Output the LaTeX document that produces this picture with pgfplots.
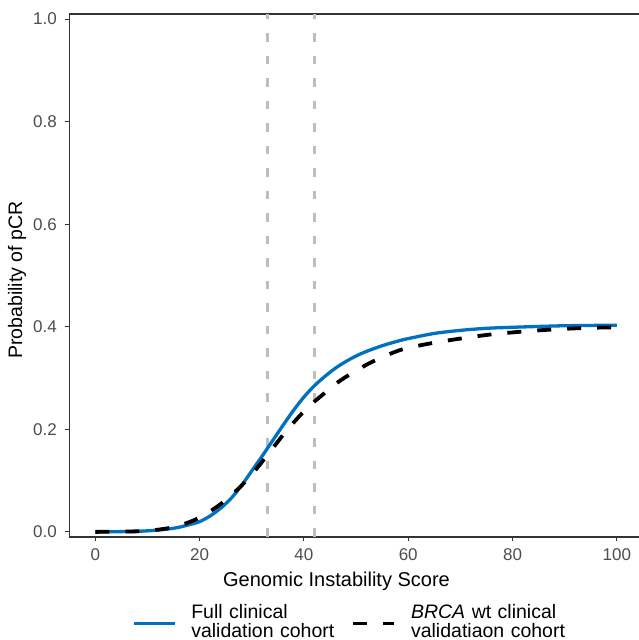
\documentclass[border=0pt]{standalone}
\usepackage{fontspec}
\setmainfont{Liberation Sans}
\usepackage{pgfplots}
\pgfplotsset{compat=1.18}
\definecolor{cblue}{HTML}{0070C0}
\definecolor{vgray}{HTML}{BEBEBE}
\definecolor{axgray}{HTML}{333333}
\definecolor{tkgray}{HTML}{4D4D4D}
\begin{document}
\begin{tikzpicture}
\path[use as bounding box] (0pt,0pt) rectangle (638pt,640pt);
\begin{axis}[
  at={(69.3pt,103pt)}, anchor=south west,
  scale only axis, width=570.8pt, height=523pt,
  xmin=-5, xmax=104.47, ymin=-0.01, ymax=1.01,
  xtick={0,20,40,60,80,100}, ytick={0,0.2,0.4,0.6,0.8,1},
  tick align=outside, major tick length=4.5pt,
  xtick pos=bottom, ytick pos=left,
  tick style={color=axgray, line width=1pt},
  axis line style={color=axgray, line width=1.1pt},
  /pgf/number format/assume math mode=true,
  ticklabel style={font=\fontsize{17}{19}\selectfont, text=tkgray, inner sep=0pt},
  yticklabel style={anchor=east, xshift=-7.8pt, /pgf/number format/.cd, fixed, fixed zerofill, precision=1},
  xticklabel style={anchor=north, yshift=-6.5pt},
  legend cell align=left,
  legend columns=2,
  legend style={draw=none, fill=none, inner sep=0pt, outer sep=0pt,
    at={(0.1098,-0.1491)}, anchor=west,
    nodes={text width=160pt, inner sep=0pt, align=left, font=\fontsize{19.5}{18.5}\selectfont}},
  legend image code/.code={\draw[#1] (0pt,-11pt) -- (41pt,-11pt); \path (56pt,0pt);},
]
\addplot[vgray, line width=2.7pt, dash pattern=on 8.5pt off 14pt, forget plot] coordinates {(33,-0.01) (33,1.01)};
\addplot[vgray, line width=2.7pt, dash pattern=on 8.5pt off 14pt, forget plot] coordinates {(42,-0.01) (42,1.01)};
\addplot[cblue, line width=3.3pt, smooth] coordinates {
(0,0) (5,0.0005) (10,0.002) (15,0.007) (18,0.014) (20,0.020) (22,0.031) (24,0.046) (26,0.065) (28,0.090) (30,0.119) (32,0.148) (34,0.178) (36,0.208) (38,0.237) (40,0.263) (42,0.285) (44,0.303) (46,0.319) (48,0.332) (50,0.343) (52,0.352) (55,0.363) (58,0.372) (60,0.377) (65,0.387) (70,0.393) (75,0.397) (80,0.399) (90,0.402) (100,0.403)};
\addlegendentry{Full clinical\\validation cohort}
\addplot[black, line width=3.8pt, smooth, dash pattern=on 14pt off 16pt] coordinates {
(0,0) (5,0.0005) (10,0.002) (15,0.009) (18,0.019) (20,0.028) (22,0.040) (24,0.054) (26,0.071) (28,0.090) (30,0.112) (32,0.137) (34,0.163) (36,0.189) (38,0.213) (40,0.235) (42,0.254) (44,0.271) (46,0.288) (48,0.302) (50,0.314) (52,0.326) (54,0.336) (56,0.345) (58,0.353) (60,0.359) (65,0.369) (70,0.377) (75,0.384) (80,0.389) (85,0.393) (90,0.396) (95,0.398) (100,0.399)};
\addlegendentry{\textit{BRCA} wt clinical\\validatiaon cohort}
\end{axis}
\node[anchor=base, font=\fontsize{20}{22}\selectfont] at (336.5pt,53pt) {Genomic Instability Score};
\node[anchor=base, rotate=90, font=\fontsize{19.5}{22}\selectfont] at (22pt,360pt) {Probability of pCR};
\end{tikzpicture}
\end{document}
